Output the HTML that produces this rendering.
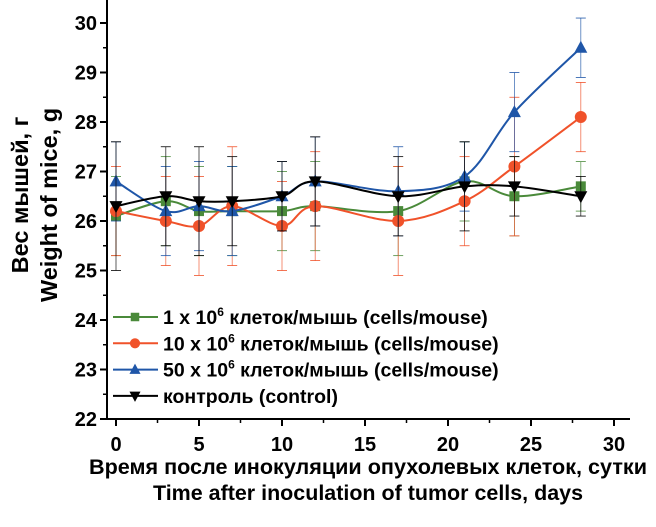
<!DOCTYPE html>
<html><head><meta charset="utf-8"><style>
body{margin:0;background:#fff;font-family:"Liberation Sans",sans-serif}
svg text{font-family:"Liberation Sans",sans-serif;font-weight:bold}
</style></head><body>
<svg id="c" width="656" height="522"></svg>
<script>
const days=[0,3,5,7,10,12,17,21,24,28];
const green=[26.1,26.4,26.2,26.2,26.2,26.3,26.2,26.8,26.5,26.7];
const greenErr=[0.8,0.9,0.9,0.9,0.8,0.9,0.9,0.8,0.8,0.5];
const red=[26.2,26.0,25.9,26.3,25.9,26.3,26.0,26.4,27.1,28.1];
const redErr=[0.9,0.9,1.0,1.2,0.9,1.1,1.1,0.9,1.4,0.7];
const blue=[26.8,26.2,26.3,26.2,26.5,26.8,26.6,26.9,28.2,29.5];
const blueErr=[0.8,0.9,0.9,0.9,0.7,0.9,0.9,0.7,0.8,0.6];
const black=[26.3,26.5,26.4,26.4,26.5,26.8,26.5,26.7,26.7,26.5];
const blackErr=[1.3,1.0,1.1,0.9,0.7,0.9,0.8,0.9,0.6,0.4];
const xTicks=[0,5,10,15,20,25,30];
const yTicks=[22,23,24,25,26,27,28,29,30];
const NS="http://www.w3.org/2000/svg",svg=document.getElementById('c');
const X=d=>116+d*(614-116)/30, Y=v=>419-(v-22)*(419-23)/8;
function mk(t,a,p){const e=document.createElementNS(NS,t);for(const k in a)e.setAttribute(k,a[k]);(p||svg).appendChild(e);return e;}
let ax=mk('line',{x1:106,y1:419,x2:630,y2:419,stroke:'#000','stroke-width':2});

let ay=mk('line',{x1:107,y1:0,x2:107,y2:420,stroke:'#000','stroke-width':2});

xTicks.forEach(t=>{mk('line',{x1:X(t),y1:419,x2:X(t),y2:426,stroke:'#000','stroke-width':2});
 const l=mk('text',{x:X(t),y:451,'text-anchor':'middle','font-size':20});l.textContent=t;
 
 if(t<30)mk('line',{x1:X(t+2.5),y1:419,x2:X(t+2.5),y2:423,stroke:'#000','stroke-width':1.5});});
yTicks.forEach(t=>{mk('line',{x1:100,y1:Y(t),x2:107,y2:Y(t),stroke:'#000','stroke-width':2});
 const l=mk('text',{x:97,y:Y(t)+7,'text-anchor':'end','font-size':20});l.textContent=t;
 
 if(t<30)mk('line',{x1:103,y1:Y(t+0.5),x2:107,y2:Y(t+0.5),stroke:'#000','stroke-width':1.5});});
function smooth(vals){const p=days.map((d,i)=>[X(d),Y(vals[i])]);let s=`M${p[0][0]},${p[0][1]}`;
 for(let i=0;i<p.length-1;i++){const p0=p[i-1]||p[i],p1=p[i],p2=p[i+1],p3=p[i+2]||p2;
 s+=` C${p1[0]+(p2[0]-p0[0])/6},${p1[1]+(p2[1]-p0[1])/6} ${p2[0]-(p3[0]-p1[0])/6},${p2[1]-(p3[1]-p1[1])/6} ${p2[0]},${p2[1]}`;}return s;}
function marker(kind,x,y,col,g,sc){sc=sc||1;
 if(kind==='sq')return mk('rect',{x:x-5*sc,y:y-5*sc,width:10*sc,height:10*sc,fill:col},g);
 if(kind==='ci')return mk('circle',{cx:x,cy:y,r:6*sc,fill:col},g);
 if(kind==='up')return mk('polygon',{points:`${x},${y-7*sc} ${x-6.5*sc},${y+5*sc} ${x+6.5*sc},${y+5*sc}`,fill:col},g);
 return mk('polygon',{points:`${x},${y+7*sc} ${x-6.5*sc},${y-5*sc} ${x+6.5*sc},${y-5*sc}`,fill:col},g);}
const S=[[green,greenErr,'#4a8a3a','sq','series-1e6'],[red,redErr,'#f0522a','ci','series-10e6'],[blue,blueErr,'#1f56a8','up','series-50e6'],[black,blackErr,'#000','dn','series-control']];
S.forEach(([v,e,c,k,n])=>{const g=mk('g',{});
 days.forEach((d,i)=>{const x=X(d);mk('line',{x1:x,y1:Y(v[i]-e[i]),x2:x,y2:Y(v[i]+e[i]),stroke:c,'stroke-width':0.8,opacity:0.8},g);
  [v[i]-e[i],v[i]+e[i]].forEach(w=>mk('line',{x1:x-5,y1:Y(w),x2:x+5,y2:Y(w),stroke:c,'stroke-width':0.8},g));});
 mk('path',{d:smooth(v),fill:'none',stroke:c,'stroke-width':2},g);
 days.forEach((d,i)=>{const m=marker(k,X(d),Y(v[i]),c,g);});});
const sup='<tspan dy="-8" font-size="12">6</tspan><tspan dy="8"> клеток/мышь (cells/mouse)</tspan>';
const leg=[['1 x 10',sup],['10 x 10',sup],['50 x 10',sup],['контроль (control)','']];
leg.forEach((L,i)=>{const y=317+i*26.3,s=S[i];const g=mk('g',{});
 mk('line',{x1:113,y1:y,x2:158,y2:y,stroke:s[2],'stroke-width':2},g);marker(s[3],135,y,s[2],g,0.85);
 const t=mk('text',{x:163,y:y+7,'font-size':19.5},g);t.innerHTML=L[0]+L[1];});
const t1=mk('text',{x:368,y:474,'text-anchor':'middle','font-size':21,textLength:558,lengthAdjust:'spacingAndGlyphs'});t1.textContent='Время после инокуляции опухолевых клеток, сутки';

const t2=mk('text',{x:368,y:500,'text-anchor':'middle','font-size':21,textLength:430,lengthAdjust:'spacingAndGlyphs'});t2.textContent='Time after inoculation of tumor cells, days';

const t3=mk('text',{x:0,y:0,'text-anchor':'middle','font-size':23.5,transform:'translate(28,195) rotate(-90)'});t3.textContent='Вес мышей, г';

const t4=mk('text',{x:0,y:0,'text-anchor':'middle','font-size':23.5,transform:'translate(57,205) rotate(-90)'});t4.textContent='Weight of mice, g';

</script></body></html>
